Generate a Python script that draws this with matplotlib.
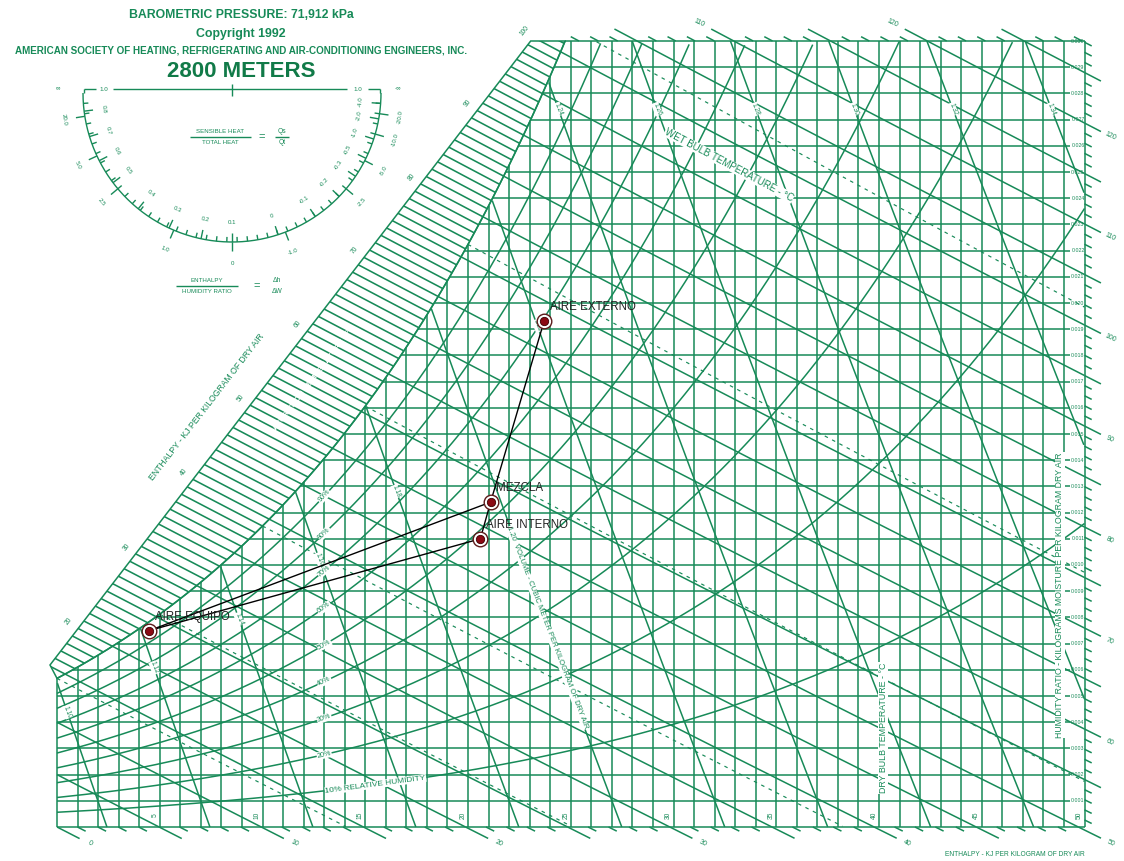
import numpy as np
import matplotlib
matplotlib.use("Agg")
import matplotlib.pyplot as plt
from matplotlib.patches import Polygon

plt.rcParams["font.family"] = ["Liberation Sans", "DejaVu Sans"]

GREEN = "#178a58"
DARK_GREEN = "#117a48"
INK = "#222222"

# chart frame: dry bulb 0..50 C, humidity ratio 0..0.030 kg/kg
T_MAX = 50.0
W_MAX = 0.030
P_CHART = 71.912   # kPa, used for the volume lines
P_SAT = 67.6       # kPa, the saturation / RH curves are laid out with this

# pixel layout of the frame inside the 1124 x 861 image
WIDTH, HEIGHT = 1124, 861
X0, SX = 57.0, 20.55      # px of 0 C, px per C
Y0, SY = 827.0, 26200.0   # px of W = 0, px per kg/kg

# chart line families
rh_levels = [0.1, 0.2, 0.3, 0.4, 0.5, 0.6, 0.7, 0.8, 0.9]
wet_bulb_levels = [0, 5, 10, 15, 20, 25]
volume_levels = [1.10, 1.12, 1.14, 1.16, 1.18, 1.20, 1.22, 1.24, 1.26, 1.28, 1.30, 1.32, 1.34]
w_ticks = [round(0.001 * k, 3) for k in range(1, 31)]
dry_bulb_labels = [5, 10, 15, 20, 25, 30, 35, 40, 45, 50]
band_enthalpy_labels = [20, 30, 40, 50, 60, 70, 80, 90, 100]

# process states (dry bulb C, humidity ratio kg/kg)
state_names = ["AIRE EXTERNO", "MEZCLA", "AIRE INTERNO", "AIRE EQUIPO"]
state_t = [23.7, 21.1, 20.6, 4.5]
state_w = [0.0193, 0.0124, 0.0110, 0.0075]
state_links = [(0, 1), (1, 2), (1, 3), (2, 3)]


def px(x, y):
    """image pixel -> chart coordinates"""
    return (np.asarray(x, float) - X0) / SX, (Y0 - np.asarray(y, float)) / SY


def pws(t):
    return 0.61094 * np.exp(17.625 * t / (t + 243.04))


def w_from_rh(t, rh):
    p = rh * pws(t)
    return 0.621945 * p / (P_SAT - p)


def w_sat(t):
    return w_from_rh(t, 1.0)


def enthalpy(t, w):
    return 1.006 * t + w * (2501 + 1.86 * t)


def w_on_h(h, t):
    return (h - 1.006 * t) / (2501 + 1.86 * t)


T_FINE = np.linspace(-5, 60, 6501)
W_FINE = w_sat(T_FINE)
H_FINE = enthalpy(T_FINE, W_FINE)


def t_dew(w):
    return np.interp(w, W_FINE, T_FINE)


def t_sat_h(h):
    return np.interp(h, H_FINE, T_FINE)


fig = plt.figure(figsize=(WIDTH / 100, HEIGHT / 100), dpi=100)
ax = fig.add_axes([0, 0, 1, 1])
ax.set_xlim(-X0 / SX, (WIDTH - X0) / SX)
ax.set_ylim((Y0 - HEIGHT) / SY, Y0 / SY)
ax.axis("off")

kw = dict(color=GREEN, lw=1.1, solid_capstyle="butt", zorder=2)
small = dict(color=GREEN, ha="center", va="center")
gap = dict(fc="white", ec="none", pad=0.3)

# dry bulb lines
for t in range(0, 51):
    ax.plot([t, t], [0, min(w_sat(t), W_MAX)], **kw)

# humidity ratio lines
ax.plot([0, T_MAX], [0, 0], **kw)
for w in w_ticks:
    right = T_MAX if w == W_MAX else 49.3
    ax.plot([max(t_dew(w), 0), right], [w, w], **kw)
    ax.text(49.68, w, f"{w:.3f}", fontsize=3.8, **small)

# saturation curve
t_top = t_dew(W_MAX)
ts = np.linspace(0, t_top, 200)
ax.plot(ts, w_sat(ts), **kw)

# relative humidity curves
ts = np.linspace(0, T_MAX, 500)
for rh in rh_levels:
    w = w_from_rh(ts, rh)
    m = w <= W_MAX
    ax.plot(ts[m], w[m], **kw)
    tl = 15.5 if rh == 0.1 else 13.0
    wl = w_from_rh(tl, rh)
    slope = (w_from_rh(tl + 0.5, rh) - w_from_rh(tl - 0.5, rh)) * SY / SX
    if rh == 0.1:
        label, fs = "10% RELATIVE HUMIDITY", 6.0
    else:
        label, fs = f"{int(round(rh * 100))}%", 5.2
    ax.text(tl, wl, label, fontsize=fs, rotation=np.degrees(np.arctan(slope)),
            bbox=gap, zorder=3, **small)

# enthalpy lines (solid every 5 kJ/kg, outside ticks every 1 kJ/kg)
for h in range(0, 131):
    major = h % 5 == 0
    t_hit_top = (h - W_MAX * 2501) / (1.006 + W_MAX * 1.86)
    t_start = max(t_sat_h(h), t_hit_top, 0.0)
    t_end = min(h / 1.006, T_MAX)
    if t_end < t_start:
        continue
    if major and t_end > t_start:
        ts = np.linspace(t_start, t_end, 30)
        ax.plot(ts, w_on_h(h, ts), **kw)
    ext = 1.1 if major else 0.4
    labelled = h % 10 == 0
    if h / 1.006 <= T_MAX:
        ts = np.array([t_end, t_end + ext])
        ax.plot(ts, w_on_h(h, ts), **kw)
        if labelled:
            tl = t_end + 1.6
            ax.text(tl, w_on_h(h, tl), str(h), fontsize=5, rotation=-25, **small)
    else:
        ext_r = 0.8 if major else 0.35
        ts = np.array([T_MAX, T_MAX + ext_r])
        ax.plot(ts, w_on_h(h, ts), **kw)
        if labelled:
            tl = T_MAX + 1.25
            ax.text(tl, w_on_h(h, tl), str(h), fontsize=5, rotation=-25, **small)
    if t_hit_top >= t_start - 1e-9 and t_hit_top > t_sat_h(h):
        ts = np.array([t_hit_top - ext, t_hit_top])
        ax.plot(ts, w_on_h(h, ts), **kw)
        if labelled:
            tl = t_hit_top - 1.7
            ax.text(tl, w_on_h(h, tl), str(h), fontsize=5, rotation=-25, **small)

# wet bulb lines (dashed)
for twb in wet_bulb_levels:
    ws = w_sat(twb)
    ts = np.linspace(twb, T_MAX, 300)
    w = ((2501 - 2.326 * twb) * ws - 1.006 * (ts - twb)) / (2501 + 1.86 * ts - 4.186 * twb)
    m = (w >= 0) & (w <= W_MAX)
    ax.plot(ts[m], w[m], color=GREEN, lw=0.85, dashes=(3, 4), zorder=2)
ax.text(*px(729, 165), "WET BULB TEMPERATURE - °C", fontsize=7, rotation=-28,
        bbox=gap, zorder=3, **small)

# specific volume lines
wv = np.linspace(0, W_MAX, 400)
for v in volume_levels:
    ts = v * P_CHART / (0.287042 * (1 + 1.6078 * wv)) - 273.15
    m = (ts >= 0) & (ts <= T_MAX) & (wv <= w_sat(ts))
    if not m.any():
        continue
    ax.plot(ts[m], wv[m], **kw)
    w_top = wv[m].max()
    if abs(v - 1.20) < 1e-6:
        wl, fs = 0.0076, 5.5
        text = "1.20  VOLUME - CUBIC METER PER KILOGRAM OF DRY AIR"
    else:
        wl, fs = (0.0274 if w_top > 0.028 else 0.8 * w_top), 4.8
        text = f"{v:.2f}"
    tl = v * P_CHART / (0.287042 * (1 + 1.6078 * wl)) - 273.15
    ax.text(tl, wl, text, fontsize=fs, rotation=-69,
            bbox=dict(fc="white", ec="none", pad=0.2), zorder=3, **small)

# dry bulb labels along the bottom
for t in dry_bulb_labels:
    ax.text(t - 5 / SX, 12 / SY, str(t), fontsize=4.8, rotation=90, **small)

ax.text(*px(883, 728), "DRY BULB TEMPERATURE - °C", fontsize=6.4, rotation=90,
        bbox=gap, zorder=3, **small)
ax.text(*px(1060, 595), "HUMIDITY RATIO - KILOGRAMS MOISTURE PER KILOGRAM DRY AIR",
        fontsize=6.3, rotation=90, bbox=gap, zorder=3, **small)
ax.text(*px(1015, 855), "ENTHALPY - KJ PER KILOGRAM OF DRY AIR", fontsize=4.8, **small)

# hatched enthalpy band left of the saturation curve
ea = np.array(px(50, 665))
eb = np.array(px(533, 38))
s_top = (W_MAX - ea[1]) / (eb[1] - ea[1])
edge_top = ea + s_top * (eb - ea)
ts = np.linspace(t_top, 0, 120)
verts = [tuple(ea), tuple(edge_top), (t_top, W_MAX)] + list(zip(ts, w_sat(ts)))
band = Polygon(verts, closed=True, fill=False, edgecolor=GREEN, lw=1.1, zorder=2)
ax.add_patch(band)
ts = np.linspace(-3, 27, 40)
for h in range(5, 106):
    line, = ax.plot(ts, w_on_h(h, ts), color=GREEN, lw=1.15, zorder=2)
    line.set_clip_path(band)

s = np.linspace(0, 1.03, 600)
edge_t = ea[0] + s * (eb[0] - ea[0])
edge_w = ea[1] + s * (eb[1] - ea[1])
edge_h = enthalpy(edge_t, edge_w)
for h in band_enthalpy_labels:
    sh = np.interp(h, edge_h, s)
    tl = ea[0] + sh * (eb[0] - ea[0]) - 9 / SX
    wl = ea[1] + sh * (eb[1] - ea[1]) + 7 / SY
    ax.text(tl, wl, str(h), fontsize=4.8, rotation=52, **small)
ax.text(*px(207, 407), "ENTHALPY - KJ PER KILOGRAM OF DRY AIR", fontsize=6.2, rotation=52.4, **small)
ax.text(*px(313, 380), "SATURATION TEMPERATURE - °C", fontsize=6, rotation=52.4,
        color="white", fontweight="bold", ha="center", va="center", zorder=3)

# sensible heat ratio protractor
cx, cy, r = 232.0, 93.0, 149.0
pk = dict(color=GREEN, lw=1.0, solid_capstyle="butt")
for x_a, x_b in [(84, 96), (113, 347), (368, 380)]:
    ax.plot(*px([x_a, x_b], [89, 89]), **pk)
ax.plot(*px([cx, cx], [84, 96]), **pk)
ax.plot(*px([84, 84], [89, 93]), **pk)
ax.plot(*px([380, 380], [89, 93]), **pk)
for x, lab in [(104, "1.0"), (358, "1.0"), (58, "∞"), (398, "-∞")]:
    ax.text(*px(x, 89), lab, fontsize=4.5, **small)
ang = np.radians(np.linspace(180, 360, 300))
ax.plot(*px(cx + r * np.cos(ang), cy - r * np.sin(ang)), **pk)
for a in np.arange(184, 360, 4):
    th = np.radians(a)
    ax.plot(*px(cx + np.array([r - 5, r]) * np.cos(th), cy - np.array([r - 5, r]) * np.sin(th)), **pk)
inner = [(187, "0.8"), (197, "0.7"), (207, "0.6"), (217, "0.5"), (231, "0.4"), (245, "0.3"),
         (258, "0.2"), (270, "0.1"), (288, "0"), (304, "-0.1"), (316, "-0.2"), (326, "-0.3"),
         (334, "-0.5"), (342, "-1.0"), (350, "-2.0"), (356, "-4.0")]
outer = [(189, "20.0"), (205, "5.0"), (220, "2.5"), (247, "1.0"), (270, "0"), (291, "-1.0"),
         (320, "-2.5"), (333, "-5.0"), (344, "-10.0"), (352, "-20.0")]
for a, lab in inner:
    th = np.radians(a)
    ax.plot(*px(cx + np.array([r - 9, r]) * np.cos(th), cy - np.array([r - 9, r]) * np.sin(th)), **pk)
    ax.text(*px(cx + (r - 20) * np.cos(th), cy - (r - 20) * np.sin(th)), lab, fontsize=4.4,
            rotation=a + 90 if a < 270 else a - 270, **small)
for a, lab in outer:
    th = np.radians(a)
    ax.plot(*px(cx + np.array([r, r + 9]) * np.cos(th), cy - np.array([r, r + 9]) * np.sin(th)), **pk)
    ax.text(*px(cx + (r + 21) * np.cos(th), cy - (r + 21) * np.sin(th)), lab, fontsize=4.4,
            rotation=a + 90 if a < 270 else a - 270, **small)

ax.text(*px(220, 131), "SENSIBLE HEAT", fontsize=4.4, **small)
ax.text(*px(220, 142), "TOTAL HEAT", fontsize=4.4, **small)
ax.plot(*px([190, 251], [136.5, 136.5]), **pk)
ax.text(*px(262, 137), "=", fontsize=8, **small)
ax.text(*px(282, 131), "Qs", fontsize=4.8, **small)
ax.text(*px(282, 142), "Qt", fontsize=4.8, **small)
ax.plot(*px([275, 289], [136.5, 136.5]), **pk)
ax.text(*px(207, 280), "ENTHALPY", fontsize=4.4, **small)
ax.text(*px(207, 291), "HUMIDITY RATIO", fontsize=4.4, **small)
ax.plot(*px([176, 238], [285.5, 285.5]), **pk)
ax.text(*px(257, 286), "=", fontsize=8, **small)
ax.text(*px(277, 280), "Δh", fontsize=4.8, **small)
ax.text(*px(277, 291), "ΔW", fontsize=4.8, **small)

# header
ax.text(*px(241, 15), "BAROMETRIC PRESSURE: 71,912 kPa", fontsize=8.8, fontweight="bold", **small)
ax.text(*px(241, 34), "Copyright 1992", fontsize=8.9, fontweight="bold", **small)
ax.text(*px(241, 50), "AMERICAN SOCIETY OF HEATING, REFRIGERATING AND AIR-CONDITIONING ENGINEERS, INC.",
        fontsize=7.1, fontweight="bold", **small)
ax.text(*px(241, 71), "2800 METERS", fontsize=16, fontweight="bold", color=DARK_GREEN,
        ha="center", va="center")

# process lines and states
for i, j in state_links:
    ax.plot([state_t[i], state_t[j]], [state_w[i], state_w[j]], color="black", lw=1.0, zorder=5)
ax.plot(state_t, state_w, "o", ms=10.5, mfc="white", mec="#5c1a1a", mew=1.0, zorder=6)
ax.plot(state_t, state_w, "o", ms=6, mfc="#8b0a14", mec="#3d0000", mew=0.6, zorder=7)
for name, t, w in zip(state_names, state_t, state_w):
    ax.annotate(name, (t, w), xytext=(4, 10), textcoords="offset points", fontsize=8.3,
                color=INK, ha="left", va="center", zorder=8)

fig.savefig("out.png", dpi=100)
